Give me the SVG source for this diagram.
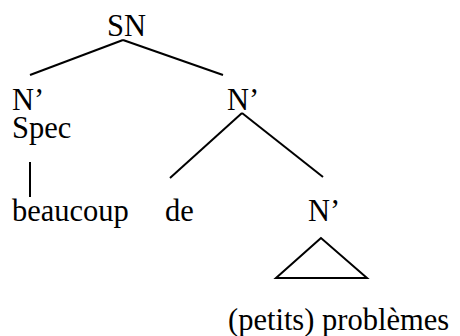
<svg xmlns="http://www.w3.org/2000/svg" width="460" height="336" viewBox="0 0 460 336">
<style>
text{font-family:"Liberation Serif","Times New Roman",Tinos,"DejaVu Serif",serif;font-size:30.5px;fill:#000}
.e{stroke:#000;stroke-width:2;fill:none;stroke-linecap:butt}
</style>
<rect width="460" height="336" fill="#fff"/>
<g id="connectors">
<line class="e" x1="123" y1="40" x2="30" y2="75"/>
<line class="e" x1="123" y1="40" x2="223" y2="75"/>
<line class="e" x1="30" y1="162" x2="30" y2="197"/>
<line class="e" x1="242" y1="113" x2="170" y2="178"/>
<line class="e" x1="242" y1="113" x2="323" y2="177"/>
</g>
<g id="SN"><text x="107" y="36">SN</text></g>
<g id="Nbar-left"><text x="12" y="110">N’</text></g>
<g id="Spec"><text x="12" y="138">Spec</text></g>
<g id="beaucoup"><text x="12" y="221">beaucoup</text></g>
<g id="Nbar-right"><text x="227" y="110">N’</text></g>
<g id="de"><text x="165" y="221">de</text></g>
<g id="Nbar-low"><text x="308" y="221">N’</text></g>
<g id="triangle"><polygon class="e" points="321,238 276,278 367,278"/></g>
<g id="problemes"><text x="228" y="330">(petits) problèmes</text></g>
</svg>
